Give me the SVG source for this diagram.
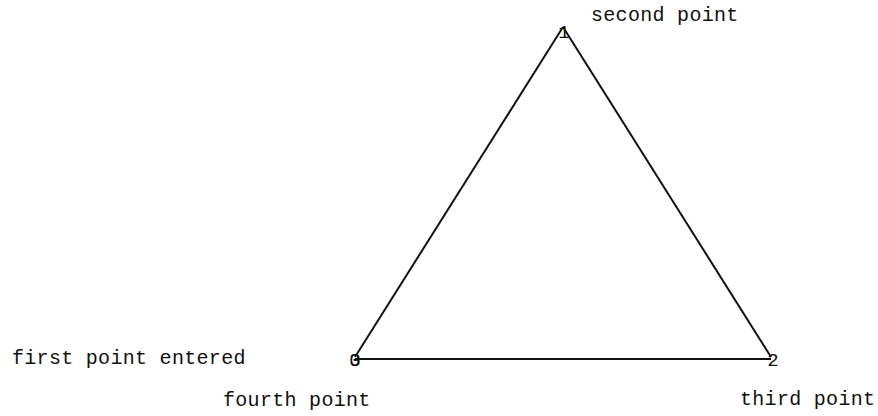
<svg xmlns="http://www.w3.org/2000/svg" width="878" height="416" viewBox="0 0 878 416">
<style>
.lbl{font-family:"Liberation Mono","DejaVu Sans Mono",monospace;font-size:20px;letter-spacing:0.3px;fill:#111}
.dig{font-family:"Liberation Mono","DejaVu Sans Mono",monospace;font-size:19px;fill:#111}
.edge{stroke:#111;stroke-width:2;fill:none}
</style>
<rect width="878" height="416" fill="#fff"/>
<g id="connectors">
<line class="edge" x1="563" y1="27" x2="355" y2="357"/>
<line class="edge" x1="563" y1="27" x2="771" y2="357"/>
<line class="edge" x1="355" y1="359" x2="771" y2="359"/>
</g>
<g id="p1"><text class="dig" x="564" y="38" text-anchor="middle">1</text><text class="lbl" x="591" y="21">second point</text></g>
<g id="p0"><text class="dig" x="355" y="366" text-anchor="middle">0</text><text class="dig" x="355" y="366" text-anchor="middle">3</text><text class="lbl" x="12" y="364">first point entered</text><text class="lbl" x="223" y="406">fourth point</text></g>
<g id="p2"><text class="dig" x="773" y="366" text-anchor="middle">2</text><text class="lbl" x="740" y="405">third point</text></g>
</svg>
